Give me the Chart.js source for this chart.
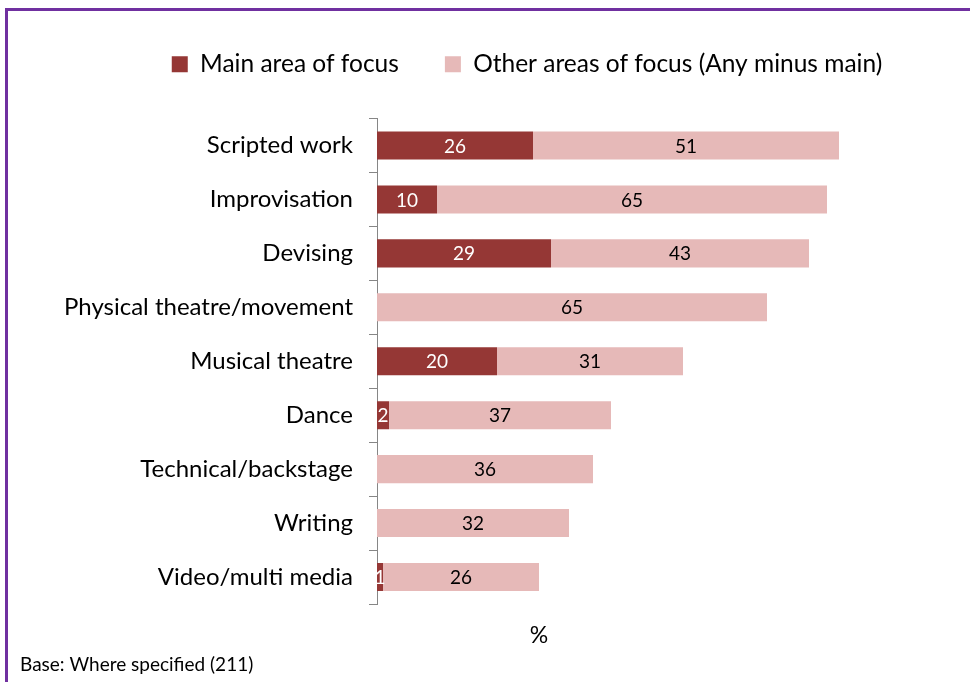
<!DOCTYPE html>
<html>
<head>
<meta charset="utf-8">
<script src="https://cdn.jsdelivr.net/npm/chart.js@4"></script>
<style>
  html, body { margin: 0; padding: 0; background: #fff; }
  #wrap { position: relative; width: 970px; height: 682px; }
  #frame { position: absolute; left: 5px; top: 8px; right: 0; bottom: 0;
           border-left: 3px solid #7030A0; border-top: 3px solid #7030A0; pointer-events: none; }
</style>
</head>
<body>
<div id="wrap">
  <canvas id="grafico" width="970" height="682"></canvas>
  <div id="frame"></div>
</div>
<script>
// categorias y valores (%)
var categorias = ['Scripted work', 'Improvisation', 'Devising', 'Physical theatre/movement',
  'Musical theatre', 'Dance', 'Technical/backstage', 'Writing', 'Video/multi media'];
var principal = [26, 10, 29, 0, 20, 2, 0, 0, 1];
var otras = [51, 65, 43, 65, 31, 37, 36, 32, 26];

var fuente = 'Lato, "Open Sans", sans-serif';

// espacio extra debajo de la leyenda y leyenda algo a la derecha
var hueco = {
  id: 'hueco',
  beforeInit: function (chart) {
    var fit = chart.legend.fit;
    chart.legend.fit = function () {
      fit.call(this);
      this.height += 32;
    };
  },
  afterLayout: function (chart) {
    chart.legend.left += 50;
    chart.legend.right += 50;
  }
};

// etiquetas dentro de las barras
var etiquetas = {
  id: 'etiquetas',
  afterDatasetsDraw: function (chart) {
    var ctx = chart.ctx;
    ctx.save();
    ctx.font = '19px ' + fuente;
    ctx.textAlign = 'center';
    ctx.textBaseline = 'middle';
    chart.data.datasets.forEach(function (ds, i) {
      var meta = chart.getDatasetMeta(i);
      meta.data.forEach(function (bar, j) {
        var v = ds.data[j];
        if (!v) return;
        var p = bar.getCenterPoint();
        ctx.fillStyle = i === 0 ? '#ffffff' : '#000000';
        ctx.fillText(v, p.x, p.y + 1);
      });
    });
    // titulo del eje y nota
    ctx.fillStyle = '#000';
    ctx.font = '23px ' + fuente;
    ctx.fillText('%', 539, 636);
    ctx.textAlign = 'left';
    ctx.font = '19px ' + fuente;
    ctx.fillText('Base: Where specified (211)', 20, 665);
    ctx.restore();
  }
};

var ctx = document.getElementById('grafico').getContext('2d');
var grafico = new Chart(ctx, {
  type: 'bar',
  data: {
    labels: categorias,
    datasets: [{
      label: 'Main area of focus',
      data: principal,
      backgroundColor: '#953735',
      borderWidth: 0,
      barPercentage: 0.52,
      categoryPercentage: 1
    }, {
      label: 'Other areas of focus (Any minus main)',
      data: otras,
      backgroundColor: '#e6b9b8',
      borderWidth: 0,
      barPercentage: 0.52,
      categoryPercentage: 1
    }]
  },
  options: {
    indexAxis: 'y',
    responsive: false,
    animation: false,
    layout: { padding: { left: 7, right: 23, top: 6, bottom: 78 } },
    plugins: {
      legend: {
        position: 'top',
        labels: {
          font: { family: fuente, size: 24.5 },
          color: '#000',
          boxWidth: 16,
          boxHeight: 16,
          padding: 46
        }
      },
      tooltip: { enabled: false }
    },
    scales: {
      x: {
        stacked: true,
        display: false,
        min: 0,
        max: 95
      },
      y: {
        stacked: true,
        afterFit: function (s) { s.width = 370; },
        grid: {
          offset: true,
          drawOnChartArea: false,
          drawTicks: true,
          tickLength: 8,
          color: '#868686'
        },
        border: { display: true, color: '#868686', width: 1 },
        ticks: {
          font: { family: fuente, size: 24 },
          color: '#000',
          padding: 16
        }
      }
    }
  },
  plugins: [hueco, etiquetas]
});
</script>
</body>
</html>
